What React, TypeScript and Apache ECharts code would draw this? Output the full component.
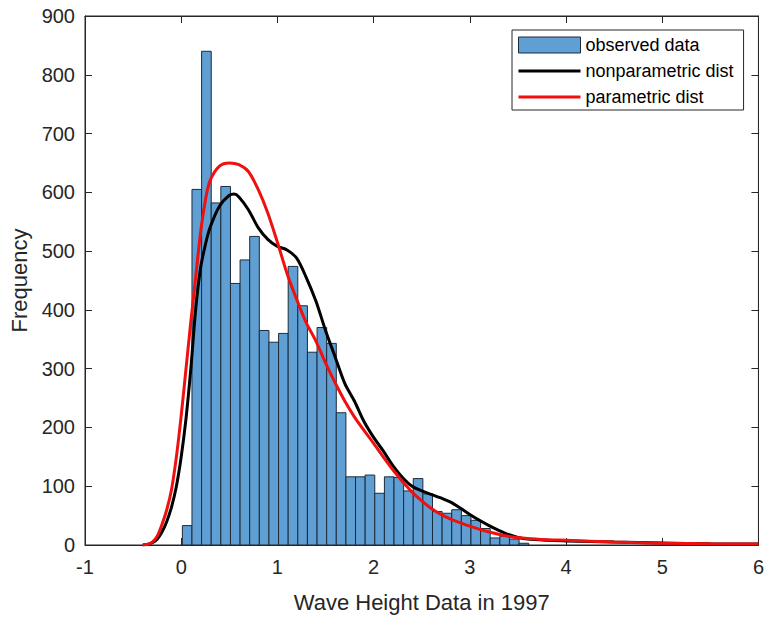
import React, { useEffect, useRef } from "react";
import * as echarts from "echarts";

// Histogram bins (bin width 0.1, first edge ~0.012)
const BIN_START = 0.012;
const BIN_WIDTH = 0.1;
const observedCounts = [
  33, 605, 840, 582, 610, 445, 485, 525, 365, 345, 360, 474, 407, 328, 370, 343,
  225, 116, 116, 119, 88, 116, 115, 92, 113, 87, 57, 54, 60, 50, 42, 28, 12, 15,
  10, 3,
];

// nonparametric (black) curve
const nonparX = [
  -0.4, -0.35, -0.3, -0.25, -0.2, -0.15, -0.1, -0.05, 0, 0.05, 0.1, 0.15, 0.2, 0.25,
  0.3, 0.4, 0.5, 0.55, 0.6, 0.7, 0.8, 0.9, 1.0, 1.1, 1.2, 1.3, 1.4, 1.5, 1.6, 1.7,
  1.8, 1.9, 2.0, 2.1, 2.2, 2.3, 2.4, 2.5, 2.6, 2.7, 2.8, 2.9, 3.0, 3.1, 3.2, 3.3,
  3.4, 3.5, 3.6, 3.8, 4.0, 4.5, 5.0, 5.5, 6.0,
];
const nonparY = [
  0, 1, 4, 10, 22, 40, 65, 100, 150, 215, 300, 400, 470, 510, 540, 577, 595, 597,
  592, 570, 540, 520, 508, 502, 488, 455, 415, 365, 320, 275, 245, 210, 183, 160,
  135, 115, 100, 92, 86, 80, 73, 63, 52, 42, 33, 25, 18, 13, 10, 8, 7, 5, 3.5, 2,
  1.5,
];

// parametric (red) curve
const parX = [
  -0.4, -0.35, -0.3, -0.25, -0.2, -0.15, -0.1, -0.05, 0, 0.05, 0.1, 0.15, 0.2, 0.25,
  0.3, 0.4, 0.5, 0.6, 0.7, 0.8, 0.9, 1.0, 1.1, 1.2, 1.3, 1.4, 1.5, 1.6, 1.7, 1.8,
  1.9, 2.0, 2.1, 2.2, 2.3, 2.4, 2.5, 2.6, 2.7, 2.8, 2.9, 3.0, 3.2, 3.4, 3.6, 3.8,
  4.0, 4.5, 5.0, 5.5, 6.0,
];
const parY = [
  0, 1, 5, 15, 35, 60, 95, 150, 220, 300, 380, 455, 530, 585, 620, 645, 650, 647,
  635, 605, 565, 515, 462, 418, 378, 347, 310, 276, 245, 218, 195, 173, 150, 128,
  108, 90, 75, 62, 52, 44, 38, 32, 22, 15, 11, 9, 8, 5, 3, 2, 1.5,
];

const X_TICKS = { min: -1, max: 6, interval: 1 };
const Y_TICKS = { min: 0, max: 900, interval: 100 };

const FONT = "'Liberation Sans', Arial, Helvetica, sans-serif";
const AXIS_COLOR = "#262626";

export default function App() {
  const ref = useRef<HTMLDivElement>(null);

  useEffect(() => {
    if (!ref.current) return;
    const chart = echarts.init(ref.current, undefined, { renderer: "svg" });

    const histData = observedCounts.map((c, i) => [
      BIN_START + i * BIN_WIDTH,
      BIN_START + (i + 1) * BIN_WIDTH,
      c,
    ]);
    const blackData = nonparX.map((x, i) => [x, nonparY[i]]);
    const redData = parX.map((x, i) => [x, parY[i]]);

    const baseX = {
      type: "value",
      min: X_TICKS.min,
      max: X_TICKS.max,
      interval: X_TICKS.interval,
      splitLine: { show: false },
      axisLine: { show: true, onZero: false, lineStyle: { color: AXIS_COLOR, width: 1 } },
      axisTick: { show: true, inside: true, length: 7, lineStyle: { color: AXIS_COLOR } },
    };
    const baseY = {
      type: "value",
      min: Y_TICKS.min,
      max: Y_TICKS.max,
      interval: Y_TICKS.interval,
      splitLine: { show: false },
      axisLine: { show: true, onZero: false, lineStyle: { color: AXIS_COLOR, width: 1 } },
      axisTick: { show: true, inside: true, length: 7, lineStyle: { color: AXIS_COLOR } },
    };

    const option: any = {
      animation: false,
      textStyle: { fontFamily: FONT },
      grid: {
        left: 85,
        right: 7,
        top: 16,
        bottom: 70,
        show: true,
        backgroundColor: "#ffffff",
        borderColor: AXIS_COLOR,
        borderWidth: 1,
      },
      legend: {
        orient: "vertical",
        left: 512,
        top: 30,
        padding: [6, 10, 4, 6],
        itemGap: 8,
        itemWidth: 62,
        itemHeight: 16,
        borderColor: AXIS_COLOR,
        borderWidth: 1,
        backgroundColor: "#ffffff",
        textStyle: { fontSize: 18, color: "#000", fontFamily: FONT },
        data: [
          {
            name: "observed data",
            icon: "rect",
            itemStyle: { color: "#5f9fd4", borderColor: "#1c2b3a", borderWidth: 1 },
          },
          { name: "nonparametric dist", icon: "path://M0,0h62v3h-62z", itemStyle: { color: "#000" } },
          { name: "parametric dist", icon: "path://M0,0h62v3h-62z", itemStyle: { color: "#f01010" } },
        ],
      },
      xAxis: [
        {
          ...baseX,
          position: "bottom",
          name: "Wave Height Data in 1997",
          nameLocation: "middle",
          nameGap: 46,
          nameTextStyle: { fontSize: 22, color: AXIS_COLOR, fontFamily: FONT },
          axisLabel: { fontSize: 20, color: AXIS_COLOR, margin: 12, fontFamily: FONT },
        },
        { ...baseX, position: "top", axisLabel: { show: false } },
      ],
      yAxis: [
        {
          ...baseY,
          position: "left",
          name: "Frequency",
          nameLocation: "middle",
          nameGap: 50,
          nameTextStyle: { fontSize: 22, color: AXIS_COLOR, fontFamily: FONT },
          axisLabel: { fontSize: 20, color: AXIS_COLOR, margin: 10, fontFamily: FONT },
        },
        { ...baseY, position: "right", axisLabel: { show: false } },
      ],
      series: [
        {
          name: "observed data",
          type: "custom",
          xAxisIndex: 0,
          yAxisIndex: 0,
          data: histData,
          encode: { x: [0, 1], y: 2 },
          itemStyle: { color: "#5f9fd4" },
          renderItem: (params: any, api: any) => {
            const p0 = api.coord([api.value(0), api.value(2)]);
            const p1 = api.coord([api.value(1), 0]);
            return {
              type: "rect",
              shape: { x: p0[0], y: p0[1], width: p1[0] - p0[0], height: p1[1] - p0[1] },
              style: { fill: "#5f9fd4", stroke: "#1c2b3a", lineWidth: 1 },
            };
          },
        },
        {
          name: "nonparametric dist",
          type: "line",
          xAxisIndex: 0,
          yAxisIndex: 0,
          data: blackData,
          smooth: 0.3,
          showSymbol: false,
          symbol: "none",
          lineStyle: { color: "#000", width: 3 },
          itemStyle: { color: "#000" },
          z: 3,
        },
        {
          name: "parametric dist",
          type: "line",
          xAxisIndex: 0,
          yAxisIndex: 0,
          data: redData,
          smooth: 0.3,
          showSymbol: false,
          symbol: "none",
          lineStyle: { color: "#f01010", width: 3 },
          itemStyle: { color: "#f01010" },
          z: 4,
        },
      ],
    };

    chart.setOption(option);
    return () => {
      chart.dispose();
    };
  }, []);

  return (
    <div
      ref={ref}
      style={{ position: "fixed", left: 0, top: 0, width: 767, height: 618, background: "#fff" }}
    />
  );
}
